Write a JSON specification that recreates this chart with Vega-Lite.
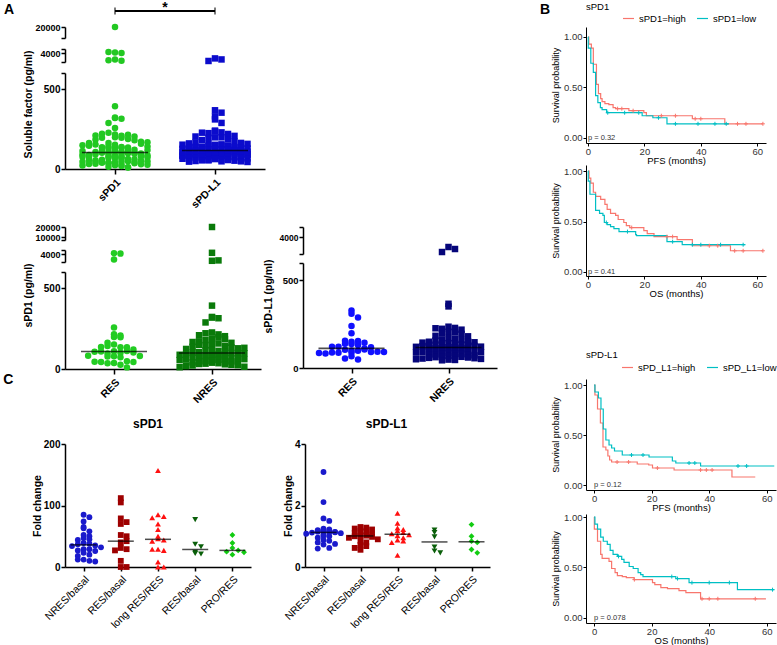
{
"$schema": "https://vega.github.io/schema/vega-lite/v6.json",
"padding": {"left": 3, "top": 0, "right": 0, "bottom": 0},
"config": {
  "view": {"stroke": null},
  "font": "Liberation Sans",
  "axis": {"domainColor": "black", "tickColor": "black", "labelColor": "black", "titleColor": "black", "grid": false},
  "title": {"color": "black"},
  "legend": {"labelColor": "black"}
},
"datasets": {
  "fac": [
    {"m":"sPD1","r":"RES","v":4100},{"m":"sPD1","r":"RES","v":4050},{"m":"sPD1","r":"RES","v":3300},{"m":"sPD1","r":"RES","v":256},{"m":"sPD1","r":"RES","v":215},{"m":"sPD1","r":"RES","v":198},{"m":"sPD1","r":"RES","v":196},{"m":"sPD1","r":"RES","v":208},{"m":"sPD1","r":"RES","v":152},{"m":"sPD1","r":"RES","v":135},{"m":"sPD1","r":"RES","v":142},{"m":"sPD1","r":"RES","v":134},{"m":"sPD1","r":"RES","v":136},{"m":"sPD1","r":"RES","v":162},{"m":"sPD1","r":"RES","v":121},{"m":"sPD1","r":"RES","v":110},{"m":"sPD1","r":"RES","v":100},{"m":"sPD1","r":"RES","v":96},{"m":"sPD1","r":"RES","v":112},{"m":"sPD1","r":"RES","v":108},{"m":"sPD1","r":"RES","v":102},{"m":"sPD1","r":"RES","v":106},{"m":"sPD1","r":"RES","v":79},{"m":"sPD1","r":"RES","v":73},{"m":"sPD1","r":"RES","v":80},{"m":"sPD1","r":"RES","v":78},{"m":"sPD1","r":"RES","v":82},{"m":"sPD1","r":"RES","v":48},{"m":"sPD1","r":"RES","v":37},{"m":"sPD1","r":"RES","v":44},{"m":"sPD1","r":"RES","v":27},{"m":"sPD1","r":"RES","v":36},{"m":"sPD1","r":"RES","v":43},{"m":"sPD1","r":"RES","v":45},{"m":"sPD1","r":"RES","v":10},
    {"m":"sPD1","r":"NRES","v":20000},{"m":"sPD1","r":"NRES","v":4150},{"m":"sPD1","r":"NRES","v":3150},{"m":"sPD1","r":"NRES","v":3200},{"m":"sPD1","r":"NRES","v":392},{"m":"sPD1","r":"NRES","v":318},{"m":"sPD1","r":"NRES","v":314},{"m":"sPD1","r":"NRES","v":322},{"m":"sPD1","r":"NRES","v":288},
    {"m":"sPD1","r":"NRES","v":226},{"m":"sPD1","r":"NRES","v":214},{"m":"sPD1","r":"NRES","v":221},{"m":"sPD1","r":"NRES","v":203},{"m":"sPD1","r":"NRES","v":209},{"m":"sPD1","r":"NRES","v":188},{"m":"sPD1","r":"NRES","v":196},{"m":"sPD1","r":"NRES","v":179},{"m":"sPD1","r":"NRES","v":184},{"m":"sPD1","r":"NRES","v":171},
    {"m":"sPD1","r":"NRES","v":162},{"m":"sPD1","r":"NRES","v":167},{"m":"sPD1","r":"NRES","v":153},{"m":"sPD1","r":"NRES","v":158},{"m":"sPD1","r":"NRES","v":146},{"m":"sPD1","r":"NRES","v":141},{"m":"sPD1","r":"NRES","v":149},{"m":"sPD1","r":"NRES","v":133},{"m":"sPD1","r":"NRES","v":137},{"m":"sPD1","r":"NRES","v":128},
    {"m":"sPD1","r":"NRES","v":124},{"m":"sPD1","r":"NRES","v":131},{"m":"sPD1","r":"NRES","v":118},{"m":"sPD1","r":"NRES","v":112},{"m":"sPD1","r":"NRES","v":116},{"m":"sPD1","r":"NRES","v":107},{"m":"sPD1","r":"NRES","v":104},{"m":"sPD1","r":"NRES","v":99},{"m":"sPD1","r":"NRES","v":101},{"m":"sPD1","r":"NRES","v":95},
    {"m":"sPD1","r":"NRES","v":92},{"m":"sPD1","r":"NRES","v":97},{"m":"sPD1","r":"NRES","v":88},{"m":"sPD1","r":"NRES","v":86},{"m":"sPD1","r":"NRES","v":90},{"m":"sPD1","r":"NRES","v":83},{"m":"sPD1","r":"NRES","v":79},{"m":"sPD1","r":"NRES","v":81},{"m":"sPD1","r":"NRES","v":76},{"m":"sPD1","r":"NRES","v":73},
    {"m":"sPD1","r":"NRES","v":77},{"m":"sPD1","r":"NRES","v":69},{"m":"sPD1","r":"NRES","v":66},{"m":"sPD1","r":"NRES","v":71},{"m":"sPD1","r":"NRES","v":63},{"m":"sPD1","r":"NRES","v":58},{"m":"sPD1","r":"NRES","v":61},{"m":"sPD1","r":"NRES","v":55},{"m":"sPD1","r":"NRES","v":52},{"m":"sPD1","r":"NRES","v":57},
    {"m":"sPD1","r":"NRES","v":49},{"m":"sPD1","r":"NRES","v":46},{"m":"sPD1","r":"NRES","v":43},{"m":"sPD1","r":"NRES","v":47},{"m":"sPD1","r":"NRES","v":39},{"m":"sPD1","r":"NRES","v":36},{"m":"sPD1","r":"NRES","v":41},{"m":"sPD1","r":"NRES","v":33},{"m":"sPD1","r":"NRES","v":29},{"m":"sPD1","r":"NRES","v":31},
    {"m":"sPD1","r":"NRES","v":26},{"m":"sPD1","r":"NRES","v":22},{"m":"sPD1","r":"NRES","v":24},{"m":"sPD1","r":"NRES","v":18},{"m":"sPD1","r":"NRES","v":14},{"m":"sPD1","r":"NRES","v":11},
    {"m":"sPD-L1","r":"RES","v":329},{"m":"sPD-L1","r":"RES","v":310},{"m":"sPD-L1","r":"RES","v":288},{"m":"sPD-L1","r":"RES","v":240},{"m":"sPD-L1","r":"RES","v":198},{"m":"sPD-L1","r":"RES","v":150},{"m":"sPD-L1","r":"RES","v":154},{"m":"sPD-L1","r":"RES","v":156},{"m":"sPD-L1","r":"RES","v":144},{"m":"sPD-L1","r":"RES","v":137},{"m":"sPD-L1","r":"RES","v":131},{"m":"sPD-L1","r":"RES","v":139},{"m":"sPD-L1","r":"RES","v":112},{"m":"sPD-L1","r":"RES","v":100},{"m":"sPD-L1","r":"RES","v":121},{"m":"sPD-L1","r":"RES","v":98},{"m":"sPD-L1","r":"RES","v":119},{"m":"sPD-L1","r":"RES","v":104},{"m":"sPD-L1","r":"RES","v":122},{"m":"sPD-L1","r":"RES","v":106},{"m":"sPD-L1","r":"RES","v":87},{"m":"sPD-L1","r":"RES","v":92},{"m":"sPD-L1","r":"RES","v":88},{"m":"sPD-L1","r":"RES","v":93},{"m":"sPD-L1","r":"RES","v":83},{"m":"sPD-L1","r":"RES","v":91},{"m":"sPD-L1","r":"RES","v":86},{"m":"sPD-L1","r":"RES","v":89},{"m":"sPD-L1","r":"RES","v":67},{"m":"sPD-L1","r":"RES","v":48},{"m":"sPD-L1","r":"RES","v":54},
    {"m":"sPD-L1","r":"NRES","v":3415},{"m":"sPD-L1","r":"NRES","v":3296},{"m":"sPD-L1","r":"NRES","v":3118},{"m":"sPD-L1","r":"NRES","v":367},{"m":"sPD-L1","r":"NRES","v":352},
    {"m":"sPD-L1","r":"NRES","v":236},{"m":"sPD-L1","r":"NRES","v":229},{"m":"sPD-L1","r":"NRES","v":224},{"m":"sPD-L1","r":"NRES","v":219},{"m":"sPD-L1","r":"NRES","v":227},{"m":"sPD-L1","r":"NRES","v":207},{"m":"sPD-L1","r":"NRES","v":203},{"m":"sPD-L1","r":"NRES","v":198},{"m":"sPD-L1","r":"NRES","v":195},{"m":"sPD-L1","r":"NRES","v":184},
    {"m":"sPD-L1","r":"NRES","v":181},{"m":"sPD-L1","r":"NRES","v":171},{"m":"sPD-L1","r":"NRES","v":166},{"m":"sPD-L1","r":"NRES","v":163},{"m":"sPD-L1","r":"NRES","v":160},{"m":"sPD-L1","r":"NRES","v":157},{"m":"sPD-L1","r":"NRES","v":152},{"m":"sPD-L1","r":"NRES","v":150},{"m":"sPD-L1","r":"NRES","v":147},{"m":"sPD-L1","r":"NRES","v":145},
    {"m":"sPD-L1","r":"NRES","v":142},{"m":"sPD-L1","r":"NRES","v":139},{"m":"sPD-L1","r":"NRES","v":137},{"m":"sPD-L1","r":"NRES","v":134},{"m":"sPD-L1","r":"NRES","v":133},{"m":"sPD-L1","r":"NRES","v":130},{"m":"sPD-L1","r":"NRES","v":128},{"m":"sPD-L1","r":"NRES","v":126},{"m":"sPD-L1","r":"NRES","v":124},{"m":"sPD-L1","r":"NRES","v":122},
    {"m":"sPD-L1","r":"NRES","v":121},{"m":"sPD-L1","r":"NRES","v":119},{"m":"sPD-L1","r":"NRES","v":118},{"m":"sPD-L1","r":"NRES","v":116},{"m":"sPD-L1","r":"NRES","v":114},{"m":"sPD-L1","r":"NRES","v":113},{"m":"sPD-L1","r":"NRES","v":110},{"m":"sPD-L1","r":"NRES","v":108},{"m":"sPD-L1","r":"NRES","v":107},{"m":"sPD-L1","r":"NRES","v":105},
    {"m":"sPD-L1","r":"NRES","v":103},{"m":"sPD-L1","r":"NRES","v":101},{"m":"sPD-L1","r":"NRES","v":99},{"m":"sPD-L1","r":"NRES","v":98},{"m":"sPD-L1","r":"NRES","v":96},{"m":"sPD-L1","r":"NRES","v":94},{"m":"sPD-L1","r":"NRES","v":92},{"m":"sPD-L1","r":"NRES","v":90},{"m":"sPD-L1","r":"NRES","v":88},{"m":"sPD-L1","r":"NRES","v":86},
    {"m":"sPD-L1","r":"NRES","v":84},{"m":"sPD-L1","r":"NRES","v":82},{"m":"sPD-L1","r":"NRES","v":80},{"m":"sPD-L1","r":"NRES","v":78},{"m":"sPD-L1","r":"NRES","v":76},{"m":"sPD-L1","r":"NRES","v":74},{"m":"sPD-L1","r":"NRES","v":72},{"m":"sPD-L1","r":"NRES","v":70},{"m":"sPD-L1","r":"NRES","v":68},{"m":"sPD-L1","r":"NRES","v":66},
    {"m":"sPD-L1","r":"NRES","v":64},{"m":"sPD-L1","r":"NRES","v":62},{"m":"sPD-L1","r":"NRES","v":60},{"m":"sPD-L1","r":"NRES","v":58},{"m":"sPD-L1","r":"NRES","v":56},{"m":"sPD-L1","r":"NRES","v":54},{"m":"sPD-L1","r":"NRES","v":52},{"m":"sPD-L1","r":"NRES","v":50},{"m":"sPD-L1","r":"NRES","v":48},{"m":"sPD-L1","r":"NRES","v":46},{"m":"sPD-L1","r":"NRES","v":44}
  ],
  "fold": [
    {"m":"sPD1","g":"NRES/basal","v":85},{"m":"sPD1","g":"NRES/basal","v":81},{"m":"sPD1","g":"NRES/basal","v":74},{"m":"sPD1","g":"NRES/basal","v":65},{"m":"sPD1","g":"NRES/basal","v":63},{"m":"sPD1","g":"NRES/basal","v":58},{"m":"sPD1","g":"NRES/basal","v":52},{"m":"sPD1","g":"NRES/basal","v":50},{"m":"sPD1","g":"NRES/basal","v":47},{"m":"sPD1","g":"NRES/basal","v":45},{"m":"sPD1","g":"NRES/basal","v":44},{"m":"sPD1","g":"NRES/basal","v":39},{"m":"sPD1","g":"NRES/basal","v":38},{"m":"sPD1","g":"NRES/basal","v":37},{"m":"sPD1","g":"NRES/basal","v":35},{"m":"sPD1","g":"NRES/basal","v":34},{"m":"sPD1","g":"NRES/basal","v":32},{"m":"sPD1","g":"NRES/basal","v":29},{"m":"sPD1","g":"NRES/basal","v":29},{"m":"sPD1","g":"NRES/basal","v":27},{"m":"sPD1","g":"NRES/basal","v":23},{"m":"sPD1","g":"NRES/basal","v":20},{"m":"sPD1","g":"NRES/basal","v":18},{"m":"sPD1","g":"NRES/basal","v":12},{"m":"sPD1","g":"NRES/basal","v":10},{"m":"sPD1","g":"NRES/basal","v":12},{"m":"sPD1","g":"NRES/basal","v":9},{"m":"sPD1","g":"NRES/basal","v":26},
    {"m":"sPD1","g":"RES/basal","v":112},{"m":"sPD1","g":"RES/basal","v":105},{"m":"sPD1","g":"RES/basal","v":79},{"m":"sPD1","g":"RES/basal","v":73},{"m":"sPD1","g":"RES/basal","v":70},{"m":"sPD1","g":"RES/basal","v":52},{"m":"sPD1","g":"RES/basal","v":50},{"m":"sPD1","g":"RES/basal","v":40},{"m":"sPD1","g":"RES/basal","v":42},{"m":"sPD1","g":"RES/basal","v":31},{"m":"sPD1","g":"RES/basal","v":29},{"m":"sPD1","g":"RES/basal","v":27},{"m":"sPD1","g":"RES/basal","v":10},{"m":"sPD1","g":"RES/basal","v":0},{"m":"sPD1","g":"RES/basal","v":0},
    {"m":"sPD1","g":"long RES/RES","v":157},{"m":"sPD1","g":"long RES/RES","v":85},{"m":"sPD1","g":"long RES/RES","v":82},{"m":"sPD1","g":"long RES/RES","v":80},{"m":"sPD1","g":"long RES/RES","v":70},{"m":"sPD1","g":"long RES/RES","v":61},{"m":"sPD1","g":"long RES/RES","v":50},{"m":"sPD1","g":"long RES/RES","v":46},{"m":"sPD1","g":"long RES/RES","v":44},{"m":"sPD1","g":"long RES/RES","v":42},{"m":"sPD1","g":"long RES/RES","v":29},{"m":"sPD1","g":"long RES/RES","v":27},{"m":"sPD1","g":"long RES/RES","v":29},{"m":"sPD1","g":"long RES/RES","v":8},{"m":"sPD1","g":"long RES/RES","v":0},{"m":"sPD1","g":"long RES/RES","v":0},
    {"m":"sPD1","g":"RES/basal (2)","v":77},{"m":"sPD1","g":"RES/basal (2)","v":37},{"m":"sPD1","g":"RES/basal (2)","v":33},{"m":"sPD1","g":"RES/basal (2)","v":24},{"m":"sPD1","g":"RES/basal (2)","v":22},{"m":"sPD1","g":"RES/basal (2)","v":21},
    {"m":"sPD1","g":"PRO/RES","v":52},{"m":"sPD1","g":"PRO/RES","v":39},{"m":"sPD1","g":"PRO/RES","v":31},{"m":"sPD1","g":"PRO/RES","v":27},{"m":"sPD1","g":"PRO/RES","v":25},{"m":"sPD1","g":"PRO/RES","v":24},{"m":"sPD1","g":"PRO/RES","v":20},
    {"m":"sPD-L1","g":"NRES/basal","v":3.09},{"m":"sPD-L1","g":"NRES/basal","v":2.11},{"m":"sPD-L1","g":"NRES/basal","v":1.58},{"m":"sPD-L1","g":"NRES/basal","v":1.50},{"m":"sPD-L1","g":"NRES/basal","v":1.25},{"m":"sPD-L1","g":"NRES/basal","v":1.22},{"m":"sPD-L1","g":"NRES/basal","v":1.20},{"m":"sPD-L1","g":"NRES/basal","v":1.18},{"m":"sPD-L1","g":"NRES/basal","v":1.16},{"m":"sPD-L1","g":"NRES/basal","v":1.15},{"m":"sPD-L1","g":"NRES/basal","v":1.13},{"m":"sPD-L1","g":"NRES/basal","v":1.12},{"m":"sPD-L1","g":"NRES/basal","v":1.10},{"m":"sPD-L1","g":"NRES/basal","v":1.08},{"m":"sPD-L1","g":"NRES/basal","v":1.05},{"m":"sPD-L1","g":"NRES/basal","v":1.02},{"m":"sPD-L1","g":"NRES/basal","v":1.00},{"m":"sPD-L1","g":"NRES/basal","v":1.13},{"m":"sPD-L1","g":"NRES/basal","v":0.95},{"m":"sPD-L1","g":"NRES/basal","v":1.17},{"m":"sPD-L1","g":"NRES/basal","v":0.88},{"m":"sPD-L1","g":"NRES/basal","v":0.85},{"m":"sPD-L1","g":"NRES/basal","v":0.80},{"m":"sPD-L1","g":"NRES/basal","v":0.75},{"m":"sPD-L1","g":"NRES/basal","v":0.73},{"m":"sPD-L1","g":"NRES/basal","v":0.62},{"m":"sPD-L1","g":"NRES/basal","v":0.60},{"m":"sPD-L1","g":"NRES/basal","v":1.14},
    {"m":"sPD-L1","g":"RES/basal","v":1.30},{"m":"sPD-L1","g":"RES/basal","v":1.28},{"m":"sPD-L1","g":"RES/basal","v":1.25},{"m":"sPD-L1","g":"RES/basal","v":1.22},{"m":"sPD-L1","g":"RES/basal","v":1.18},{"m":"sPD-L1","g":"RES/basal","v":1.15},{"m":"sPD-L1","g":"RES/basal","v":1.10},{"m":"sPD-L1","g":"RES/basal","v":1.05},{"m":"sPD-L1","g":"RES/basal","v":1.03},{"m":"sPD-L1","g":"RES/basal","v":1.02},{"m":"sPD-L1","g":"RES/basal","v":1.00},{"m":"sPD-L1","g":"RES/basal","v":0.98},{"m":"sPD-L1","g":"RES/basal","v":0.95},{"m":"sPD-L1","g":"RES/basal","v":0.90},{"m":"sPD-L1","g":"RES/basal","v":0.85},{"m":"sPD-L1","g":"RES/basal","v":0.80},{"m":"sPD-L1","g":"RES/basal","v":0.72},{"m":"sPD-L1","g":"RES/basal","v":0.68},{"m":"sPD-L1","g":"RES/basal","v":0.62},{"m":"sPD-L1","g":"RES/basal","v":0.56},
    {"m":"sPD-L1","g":"long RES/RES","v":1.75},{"m":"sPD-L1","g":"long RES/RES","v":1.42},{"m":"sPD-L1","g":"long RES/RES","v":1.27},{"m":"sPD-L1","g":"long RES/RES","v":1.22},{"m":"sPD-L1","g":"long RES/RES","v":1.18},{"m":"sPD-L1","g":"long RES/RES","v":1.12},{"m":"sPD-L1","g":"long RES/RES","v":1.08},{"m":"sPD-L1","g":"long RES/RES","v":1.05},{"m":"sPD-L1","g":"long RES/RES","v":1.02},{"m":"sPD-L1","g":"long RES/RES","v":0.95},{"m":"sPD-L1","g":"long RES/RES","v":0.88},{"m":"sPD-L1","g":"long RES/RES","v":0.85},{"m":"sPD-L1","g":"long RES/RES","v":0.80},{"m":"sPD-L1","g":"long RES/RES","v":0.38},
    {"m":"sPD-L1","g":"RES/basal (2)","v":1.20},{"m":"sPD-L1","g":"RES/basal (2)","v":1.12},{"m":"sPD-L1","g":"RES/basal (2)","v":0.98},{"m":"sPD-L1","g":"RES/basal (2)","v":0.65},{"m":"sPD-L1","g":"RES/basal (2)","v":0.52},{"m":"sPD-L1","g":"RES/basal (2)","v":0.46},
    {"m":"sPD-L1","g":"PRO/RES","v":1.38},{"m":"sPD-L1","g":"PRO/RES","v":1.00},{"m":"sPD-L1","g":"PRO/RES","v":0.84},{"m":"sPD-L1","g":"PRO/RES","v":0.80},{"m":"sPD-L1","g":"PRO/RES","v":0.57},{"m":"sPD-L1","g":"PRO/RES","v":0.46}
  ],
  "km": [
    {"p":"sPD1 PFS","s":"sPD1=high","t":0,"y":1},{"p":"sPD1 PFS","s":"sPD1=high","t":0.3,"y":0.93},{"p":"sPD1 PFS","s":"sPD1=high","t":1.2,"y":0.89},{"p":"sPD1 PFS","s":"sPD1=high","t":1.9,"y":0.73},{"p":"sPD1 PFS","s":"sPD1=high","t":3,"y":0.53},{"p":"sPD1 PFS","s":"sPD1=high","t":3.7,"y":0.44},{"p":"sPD1 PFS","s":"sPD1=high","t":4.5,"y":0.39},{"p":"sPD1 PFS","s":"sPD1=high","t":5,"y":0.36},{"p":"sPD1 PFS","s":"sPD1=high","t":6,"y":0.34},{"p":"sPD1 PFS","s":"sPD1=high","t":7.4,"y":0.33},{"p":"sPD1 PFS","s":"sPD1=high","t":8.9,"y":0.30},{"p":"sPD1 PFS","s":"sPD1=high","t":9.8,"y":0.29},{"p":"sPD1 PFS","s":"sPD1=high","t":14.5,"y":0.27},{"p":"sPD1 PFS","s":"sPD1=high","t":19.8,"y":0.25},{"p":"sPD1 PFS","s":"sPD1=high","t":20.7,"y":0.22},{"p":"sPD1 PFS","s":"sPD1=high","t":37,"y":0.19},{"p":"sPD1 PFS","s":"sPD1=high","t":48.5,"y":0.14},{"p":"sPD1 PFS","s":"sPD1=high","t":62,"y":0.14},
    {"p":"sPD1 PFS","s":"sPD1=low","t":0,"y":1},{"p":"sPD1 PFS","s":"sPD1=low","t":0.1,"y":0.89},{"p":"sPD1 PFS","s":"sPD1=low","t":1,"y":0.74},{"p":"sPD1 PFS","s":"sPD1=low","t":1.9,"y":0.65},{"p":"sPD1 PFS","s":"sPD1=low","t":2.7,"y":0.42},{"p":"sPD1 PFS","s":"sPD1=low","t":3.5,"y":0.35},{"p":"sPD1 PFS","s":"sPD1=low","t":4.4,"y":0.30},{"p":"sPD1 PFS","s":"sPD1=low","t":5,"y":0.28},{"p":"sPD1 PFS","s":"sPD1=low","t":6.6,"y":0.25},{"p":"sPD1 PFS","s":"sPD1=low","t":19.2,"y":0.22},{"p":"sPD1 PFS","s":"sPD1=low","t":23,"y":0.20},{"p":"sPD1 PFS","s":"sPD1=low","t":28,"y":0.14},{"p":"sPD1 PFS","s":"sPD1=low","t":50,"y":0.14},
    {"p":"sPD1 OS","s":"sPD1=high","t":0,"y":1},{"p":"sPD1 OS","s":"sPD1=high","t":0.4,"y":0.93},{"p":"sPD1 OS","s":"sPD1=high","t":1,"y":0.88},{"p":"sPD1 OS","s":"sPD1=high","t":1.9,"y":0.79},{"p":"sPD1 OS","s":"sPD1=high","t":2.7,"y":0.75},{"p":"sPD1 OS","s":"sPD1=high","t":4.5,"y":0.72},{"p":"sPD1 OS","s":"sPD1=high","t":6,"y":0.67},{"p":"sPD1 OS","s":"sPD1=high","t":6.8,"y":0.62},{"p":"sPD1 OS","s":"sPD1=high","t":8,"y":0.58},{"p":"sPD1 OS","s":"sPD1=high","t":9.8,"y":0.56},{"p":"sPD1 OS","s":"sPD1=high","t":10.7,"y":0.52},{"p":"sPD1 OS","s":"sPD1=high","t":12.7,"y":0.49},{"p":"sPD1 OS","s":"sPD1=high","t":13.6,"y":0.46},{"p":"sPD1 OS","s":"sPD1=high","t":14.8,"y":0.44},{"p":"sPD1 OS","s":"sPD1=high","t":19.8,"y":0.41},{"p":"sPD1 OS","s":"sPD1=high","t":21,"y":0.38},{"p":"sPD1 OS","s":"sPD1=high","t":23.4,"y":0.35},{"p":"sPD1 OS","s":"sPD1=high","t":31.6,"y":0.32},{"p":"sPD1 OS","s":"sPD1=high","t":37,"y":0.26},{"p":"sPD1 OS","s":"sPD1=high","t":50.5,"y":0.21},{"p":"sPD1 OS","s":"sPD1=high","t":62,"y":0.21},
    {"p":"sPD1 OS","s":"sPD1=low","t":0,"y":1},{"p":"sPD1 OS","s":"sPD1=low","t":0.1,"y":0.90},{"p":"sPD1 OS","s":"sPD1=low","t":0.7,"y":0.77},{"p":"sPD1 OS","s":"sPD1=low","t":2.7,"y":0.61},{"p":"sPD1 OS","s":"sPD1=low","t":4.1,"y":0.58},{"p":"sPD1 OS","s":"sPD1=low","t":5.3,"y":0.56},{"p":"sPD1 OS","s":"sPD1=low","t":5.8,"y":0.49},{"p":"sPD1 OS","s":"sPD1=low","t":6.8,"y":0.47},{"p":"sPD1 OS","s":"sPD1=low","t":8,"y":0.45},{"p":"sPD1 OS","s":"sPD1=low","t":9.2,"y":0.43},{"p":"sPD1 OS","s":"sPD1=low","t":11,"y":0.40},{"p":"sPD1 OS","s":"sPD1=low","t":16.9,"y":0.37},{"p":"sPD1 OS","s":"sPD1=low","t":17.2,"y":0.36},{"p":"sPD1 OS","s":"sPD1=low","t":28,"y":0.30},{"p":"sPD1 OS","s":"sPD1=low","t":33.4,"y":0.27},{"p":"sPD1 OS","s":"sPD1=low","t":55.8,"y":0.27},
    {"p":"sPD-L1 PFS","s":"sPD_L1=high","t":0,"y":1},{"p":"sPD-L1 PFS","s":"sPD_L1=high","t":0.3,"y":0.90},{"p":"sPD-L1 PFS","s":"sPD_L1=high","t":1.2,"y":0.76},{"p":"sPD-L1 PFS","s":"sPD_L1=high","t":2.2,"y":0.62},{"p":"sPD-L1 PFS","s":"sPD_L1=high","t":3.1,"y":0.38},{"p":"sPD-L1 PFS","s":"sPD_L1=high","t":4.1,"y":0.35},{"p":"sPD-L1 PFS","s":"sPD_L1=high","t":4.8,"y":0.29},{"p":"sPD-L1 PFS","s":"sPD_L1=high","t":5.4,"y":0.25},{"p":"sPD-L1 PFS","s":"sPD_L1=high","t":6.1,"y":0.23},{"p":"sPD-L1 PFS","s":"sPD_L1=high","t":15,"y":0.21},{"p":"sPD-L1 PFS","s":"sPD_L1=high","t":19,"y":0.20},{"p":"sPD-L1 PFS","s":"sPD_L1=high","t":20.3,"y":0.17},{"p":"sPD-L1 PFS","s":"sPD_L1=high","t":27.8,"y":0.15},{"p":"sPD-L1 PFS","s":"sPD_L1=high","t":47.9,"y":0.08},{"p":"sPD-L1 PFS","s":"sPD_L1=high","t":56,"y":0.08},
    {"p":"sPD-L1 PFS","s":"sPD_L1=low","t":0,"y":1},{"p":"sPD-L1 PFS","s":"sPD_L1=low","t":0.3,"y":0.93},{"p":"sPD-L1 PFS","s":"sPD_L1=low","t":1.5,"y":0.87},{"p":"sPD-L1 PFS","s":"sPD_L1=low","t":2.4,"y":0.76},{"p":"sPD-L1 PFS","s":"sPD_L1=low","t":3.2,"y":0.56},{"p":"sPD-L1 PFS","s":"sPD_L1=low","t":4.1,"y":0.45},{"p":"sPD-L1 PFS","s":"sPD_L1=low","t":5.2,"y":0.40},{"p":"sPD-L1 PFS","s":"sPD_L1=low","t":6.1,"y":0.37},{"p":"sPD-L1 PFS","s":"sPD_L1=low","t":7.1,"y":0.34},{"p":"sPD-L1 PFS","s":"sPD_L1=low","t":9.8,"y":0.30},{"p":"sPD-L1 PFS","s":"sPD_L1=low","t":19.1,"y":0.28},{"p":"sPD-L1 PFS","s":"sPD_L1=low","t":27.2,"y":0.24},{"p":"sPD-L1 PFS","s":"sPD_L1=low","t":28.4,"y":0.22},{"p":"sPD-L1 PFS","s":"sPD_L1=low","t":37,"y":0.19},{"p":"sPD-L1 PFS","s":"sPD_L1=low","t":62.6,"y":0.19},
    {"p":"sPD-L1 OS","s":"sPD_L1=high","t":0,"y":1},{"p":"sPD-L1 OS","s":"sPD_L1=high","t":0.1,"y":0.88},{"p":"sPD-L1 OS","s":"sPD_L1=high","t":1.2,"y":0.76},{"p":"sPD-L1 OS","s":"sPD_L1=high","t":2.3,"y":0.63},{"p":"sPD-L1 OS","s":"sPD_L1=high","t":2.8,"y":0.59},{"p":"sPD-L1 OS","s":"sPD_L1=high","t":5.2,"y":0.56},{"p":"sPD-L1 OS","s":"sPD_L1=high","t":6.1,"y":0.49},{"p":"sPD-L1 OS","s":"sPD_L1=high","t":7.3,"y":0.45},{"p":"sPD-L1 OS","s":"sPD_L1=high","t":8.1,"y":0.42},{"p":"sPD-L1 OS","s":"sPD_L1=high","t":9.8,"y":0.41},{"p":"sPD-L1 OS","s":"sPD_L1=high","t":11.2,"y":0.40},{"p":"sPD-L1 OS","s":"sPD_L1=high","t":13.9,"y":0.38},{"p":"sPD-L1 OS","s":"sPD_L1=high","t":20.3,"y":0.35},{"p":"sPD-L1 OS","s":"sPD_L1=high","t":21.1,"y":0.33},{"p":"sPD-L1 OS","s":"sPD_L1=high","t":23.2,"y":0.30},{"p":"sPD-L1 OS","s":"sPD_L1=high","t":25.5,"y":0.29},{"p":"sPD-L1 OS","s":"sPD_L1=high","t":29.5,"y":0.27},{"p":"sPD-L1 OS","s":"sPD_L1=high","t":31.9,"y":0.25},{"p":"sPD-L1 OS","s":"sPD_L1=high","t":37,"y":0.19},{"p":"sPD-L1 OS","s":"sPD_L1=high","t":59.7,"y":0.19},
    {"p":"sPD-L1 OS","s":"sPD_L1=low","t":0,"y":1},{"p":"sPD-L1 OS","s":"sPD_L1=low","t":0.3,"y":0.93},{"p":"sPD-L1 OS","s":"sPD_L1=low","t":1.2,"y":0.88},{"p":"sPD-L1 OS","s":"sPD_L1=low","t":2.3,"y":0.80},{"p":"sPD-L1 OS","s":"sPD_L1=low","t":3.2,"y":0.76},{"p":"sPD-L1 OS","s":"sPD_L1=low","t":4.6,"y":0.73},{"p":"sPD-L1 OS","s":"sPD_L1=low","t":5.6,"y":0.67},{"p":"sPD-L1 OS","s":"sPD_L1=low","t":6.6,"y":0.63},{"p":"sPD-L1 OS","s":"sPD_L1=low","t":8.1,"y":0.61},{"p":"sPD-L1 OS","s":"sPD_L1=low","t":9.6,"y":0.58},{"p":"sPD-L1 OS","s":"sPD_L1=low","t":10.4,"y":0.55},{"p":"sPD-L1 OS","s":"sPD_L1=low","t":12.2,"y":0.51},{"p":"sPD-L1 OS","s":"sPD_L1=low","t":13.6,"y":0.49},{"p":"sPD-L1 OS","s":"sPD_L1=low","t":15.3,"y":0.45},{"p":"sPD-L1 OS","s":"sPD_L1=low","t":16.2,"y":0.43},{"p":"sPD-L1 OS","s":"sPD_L1=low","t":17,"y":0.41},{"p":"sPD-L1 OS","s":"sPD_L1=low","t":28.4,"y":0.39},{"p":"sPD-L1 OS","s":"sPD_L1=low","t":33,"y":0.35},{"p":"sPD-L1 OS","s":"sPD_L1=low","t":49.8,"y":0.28},{"p":"sPD-L1 OS","s":"sPD_L1=low","t":62.6,"y":0.28}
  ],
  "cens": [
    {"p":"sPD1 PFS","s":"sPD1=high","t":10.5,"y":0.29},{"p":"sPD1 PFS","s":"sPD1=high","t":12,"y":0.29},{"p":"sPD1 PFS","s":"sPD1=high","t":16,"y":0.27},{"p":"sPD1 PFS","s":"sPD1=high","t":26,"y":0.22},{"p":"sPD1 PFS","s":"sPD1=high","t":31,"y":0.22},{"p":"sPD1 PFS","s":"sPD1=high","t":38,"y":0.19},{"p":"sPD1 PFS","s":"sPD1=high","t":40,"y":0.19},{"p":"sPD1 PFS","s":"sPD1=high","t":53,"y":0.14},{"p":"sPD1 PFS","s":"sPD1=high","t":56,"y":0.14},{"p":"sPD1 PFS","s":"sPD1=high","t":62,"y":0.14},
    {"p":"sPD1 PFS","s":"sPD1=low","t":7,"y":0.25},{"p":"sPD1 PFS","s":"sPD1=low","t":13,"y":0.25},{"p":"sPD1 PFS","s":"sPD1=low","t":18,"y":0.25},{"p":"sPD1 PFS","s":"sPD1=low","t":25,"y":0.20},{"p":"sPD1 PFS","s":"sPD1=low","t":31,"y":0.14},{"p":"sPD1 PFS","s":"sPD1=low","t":39,"y":0.14},{"p":"sPD1 PFS","s":"sPD1=low","t":45,"y":0.14},{"p":"sPD1 PFS","s":"sPD1=low","t":49,"y":0.14},
    {"p":"sPD1 OS","s":"sPD1=high","t":15.5,"y":0.44},{"p":"sPD1 OS","s":"sPD1=high","t":28,"y":0.35},{"p":"sPD1 OS","s":"sPD1=high","t":30,"y":0.35},{"p":"sPD1 OS","s":"sPD1=high","t":43,"y":0.26},{"p":"sPD1 OS","s":"sPD1=high","t":46,"y":0.26},{"p":"sPD1 OS","s":"sPD1=high","t":52,"y":0.21},{"p":"sPD1 OS","s":"sPD1=high","t":55,"y":0.21},{"p":"sPD1 OS","s":"sPD1=high","t":62,"y":0.21},
    {"p":"sPD1 OS","s":"sPD1=low","t":6.5,"y":0.49},{"p":"sPD1 OS","s":"sPD1=low","t":14,"y":0.40},{"p":"sPD1 OS","s":"sPD1=low","t":30,"y":0.30},{"p":"sPD1 OS","s":"sPD1=low","t":37,"y":0.27},{"p":"sPD1 OS","s":"sPD1=low","t":40,"y":0.27},{"p":"sPD1 OS","s":"sPD1=low","t":47,"y":0.27},{"p":"sPD1 OS","s":"sPD1=low","t":55,"y":0.27},
    {"p":"sPD-L1 PFS","s":"sPD_L1=high","t":8,"y":0.23},{"p":"sPD-L1 PFS","s":"sPD_L1=high","t":12,"y":0.23},{"p":"sPD-L1 PFS","s":"sPD_L1=high","t":22,"y":0.17},{"p":"sPD-L1 PFS","s":"sPD_L1=high","t":37,"y":0.15},{"p":"sPD-L1 PFS","s":"sPD_L1=high","t":39,"y":0.15},{"p":"sPD-L1 PFS","s":"sPD_L1=high","t":41,"y":0.15},
    {"p":"sPD-L1 PFS","s":"sPD_L1=low","t":13,"y":0.30},{"p":"sPD-L1 PFS","s":"sPD_L1=low","t":17,"y":0.30},{"p":"sPD-L1 PFS","s":"sPD_L1=low","t":33,"y":0.22},{"p":"sPD-L1 PFS","s":"sPD_L1=low","t":35,"y":0.22},{"p":"sPD-L1 PFS","s":"sPD_L1=low","t":50,"y":0.19},{"p":"sPD-L1 PFS","s":"sPD_L1=low","t":53,"y":0.19},
    {"p":"sPD-L1 OS","s":"sPD_L1=high","t":14,"y":0.38},{"p":"sPD-L1 OS","s":"sPD_L1=high","t":37.5,"y":0.19},{"p":"sPD-L1 OS","s":"sPD_L1=high","t":40,"y":0.19},{"p":"sPD-L1 OS","s":"sPD_L1=high","t":43,"y":0.19},{"p":"sPD-L1 OS","s":"sPD_L1=high","t":56,"y":0.19},
    {"p":"sPD-L1 OS","s":"sPD_L1=low","t":8.5,"y":0.61},{"p":"sPD-L1 OS","s":"sPD_L1=low","t":27,"y":0.41},{"p":"sPD-L1 OS","s":"sPD_L1=low","t":29,"y":0.39},{"p":"sPD-L1 OS","s":"sPD_L1=low","t":34,"y":0.35},{"p":"sPD-L1 OS","s":"sPD_L1=low","t":40,"y":0.35},{"p":"sPD-L1 OS","s":"sPD_L1=low","t":47,"y":0.35},{"p":"sPD-L1 OS","s":"sPD_L1=low","t":62,"y":0.28}
  ]
},
"resolve": {"scale": {"color": "independent", "shape": "independent"}, "legend": {"color": "independent", "shape": "independent"}},
"spacing": 43,
"hconcat": [
 {
  "spacing": 12,
  "resolve": {"scale": {"color": "independent", "shape": "independent"}, "legend": {"color": "independent", "shape": "independent"}},
  "vconcat": [
   {
    "bounds": "flush", "spacing": 11,
    "resolve": {"scale": {"color": "independent", "shape": "independent"}, "legend": {"color": "independent", "shape": "independent"}},
    "vconcat": [
     {
      "width": 200, "height": 11,
      "layer": [
       {
        "data": {"name": "fac"},
        "transform": [{"filter": "datum.v > 6000"}, {"calculate": "datum.m == 'sPD1' ? 0 : 1", "as": "xi"}],
        "mark": {"type": "point", "filled": true, "opacity": 1, "size": 42, "clip": false},
        "encoding": {
         "x": {"field": "xi", "type": "quantitative", "scale": {"domain": [-0.5, 1.5], "nice": false, "zero": false}, "axis": null},
         "y": {"field": "v", "type": "quantitative", "scale": {"domain": [7000, 20000], "nice": false, "zero": false}, "axis": {"values": [7000, 10000, 20000], "labelExpr": "datum.value == 7000 ? '' : datum.label", "format": "d", "title": null, "labelFontSize": 9, "labelFontWeight": "bold", "domainWidth": 1.5, "tickWidth": 1.5, "tickSize": 4, "labelPadding": 1, "labelOverlap": false, "labelFlush": false}},
         "shape": {"field": "m", "type": "nominal", "scale": {"domain": ["sPD1","sPD-L1"], "range": ["circle","square"]}, "legend": null},
         "color": {"field": "m", "type": "nominal", "scale": {"domain": ["sPD1","sPD-L1"], "range": ["#22c822","#0b0bcc"]}, "legend": null}
        }
       },
       {"data": {"values": [{}]}, "mark": {"type": "rule", "strokeWidth": 2.2, "color": "black"}, "encoding": {"x": {"datum": 0}, "x2": {"datum": 1}, "y": {"datum": 38900}}},
       {"data": {"values": [{}]}, "mark": {"type": "tick", "orient": "vertical", "size": 7, "thickness": 1.5, "color": "black"}, "encoding": {"x": {"datum": 0}, "y": {"datum": 38900}}},
       {"data": {"values": [{}]}, "mark": {"type": "tick", "orient": "vertical", "size": 7, "thickness": 1.5, "color": "black"}, "encoding": {"x": {"datum": 1}, "y": {"datum": 38900}}},
       {"data": {"values": [{}]}, "mark": {"type": "text", "text": "*", "fontSize": 14, "fontWeight": "bold", "baseline": "middle", "align": "center", "color": "black"}, "encoding": {"x": {"datum": 0.5}, "y": {"datum": 42460}}},
       {"data": {"values": [{}]}, "mark": {"type": "text", "text": "A", "fontSize": 14, "fontWeight": "bold", "baseline": "middle", "align": "left", "color": "black"}, "encoding": {"x": {"datum": -1.11}, "y": {"datum": 40090}}}
      ]
     },
     {
      "width": 200, "height": 13,
      "data": {"name": "fac"},
      "transform": [{"filter": "datum.v > 2000 && datum.v <= 6000"}, {"calculate": "floor(datum.v / 1000)", "as": "b"}, {"window": [{"op": "row_number", "as": "rk"}], "groupby": ["m", "b"]}, {"calculate": "(datum.m == 'sPD1' ? 0 : 1) + 0.065 * (datum.rk % 2 == 0 ? 1 : -1) * floor(datum.rk / 2)", "as": "xx"}],
      "mark": {"type": "point", "filled": true, "opacity": 1, "size": 42, "clip": false},
      "encoding": {
       "x": {"field": "xx", "type": "quantitative", "scale": {"domain": [-0.5, 1.5], "nice": false, "zero": false}, "axis": null},
       "y": {"field": "v", "type": "quantitative", "scale": {"domain": [3000, 4500], "nice": false, "zero": false}, "axis": {"values": [3000, 4000, 4500], "labelExpr": "datum.value == 4000 ? datum.label : ''", "format": "d", "title": null, "labelFontSize": 9, "labelFontWeight": "bold", "domainWidth": 1.5, "tickWidth": 1.5, "tickSize": 4, "labelPadding": 1, "labelOverlap": false, "labelFlush": false}},
       "shape": {"field": "m", "type": "nominal", "scale": {"domain": ["sPD1","sPD-L1"], "range": ["circle","square"]}, "legend": null},
       "color": {"field": "m", "type": "nominal", "scale": {"domain": ["sPD1","sPD-L1"], "range": ["#22c822","#0b0bcc"]}, "legend": null}
      }
     },
     {
      "width": 200, "height": 96,
      "data": {"name": "fac"},
      "layer": [
       {
        "transform": [{"filter": "datum.v <= 600"}, {"calculate": "floor(datum.v / 40)", "as": "b"}, {"window": [{"op": "row_number", "as": "rk"}], "groupby": ["m", "b"]}, {"calculate": "((datum.rk - 1) % 11) + 1", "as": "k"}, {"calculate": "(datum.m == 'sPD1' ? 0 : 1) + 0.065 * (datum.k % 2 == 0 ? 1 : -1) * floor(datum.k / 2)", "as": "xx"}],
        "mark": {"type": "point", "filled": true, "opacity": 1, "size": 42, "clip": false},
        "encoding": {
         "x": {"field": "xx", "type": "quantitative", "scale": {"domain": [-0.5, 1.5], "nice": false, "zero": false}, "axis": {"values": [0, 1], "labelExpr": "datum.value == 0 ? 'sPD1' : 'sPD-L1'", "title": null, "labelAngle": -45, "labelFontSize": 10.5, "labelFontWeight": "bold", "domainWidth": 1.5, "tickWidth": 1.5, "tickSize": 5, "labelPadding": 3, "labelFlush": false, "labelOverlap": false}},
         "y": {"field": "v", "type": "quantitative", "scale": {"domain": [0, 600], "nice": false}, "axis": {"values": [0, 500, 600], "labelExpr": "datum.value == 600 ? '' : datum.label", "format": "d", "title": "Soluble factor (pg/ml)", "titleFontSize": 10.5, "titleFontWeight": "bold", "titleY": 31, "titlePadding": 10, "labelFontSize": 10, "labelFontWeight": "bold", "domainWidth": 1.5, "tickWidth": 1.5, "tickSize": 4, "labelPadding": 1, "labelOverlap": false, "labelFlush": false}},
         "shape": {"field": "m", "type": "nominal", "scale": {"domain": ["sPD1","sPD-L1"], "range": ["circle","square"]}, "legend": null},
         "color": {"field": "m", "type": "nominal", "scale": {"domain": ["sPD1","sPD-L1"], "range": ["#22c822","#0b0bcc"]}, "legend": null}
        }
       },
       {
        "transform": [{"aggregate": [{"op": "median", "field": "v", "as": "med"}], "groupby": ["m"]}, {"calculate": "datum.m == 'sPD1' ? 0 : 1", "as": "xi"}],
        "mark": {"type": "tick", "orient": "horizontal", "color": "black", "size": 66, "thickness": 1.6},
        "encoding": {"x": {"field": "xi", "type": "quantitative"}, "y": {"field": "med", "type": "quantitative"}}
       }
      ]
     }
    ]
   },
   {
    "spacing": 2,
    "resolve": {"scale": {"color": "independent", "shape": "independent"}, "legend": {"color": "independent", "shape": "independent"}},
    "hconcat": [
     {
      "bounds": "flush", "spacing": 10,
      "resolve": {"scale": {"color": "independent", "shape": "independent"}, "legend": {"color": "independent", "shape": "independent"}},
      "vconcat": [
       {
        "width": 196, "height": 13,
        "data": {"name": "fac"},
        "transform": [{"filter": "datum.m == 'sPD1' && datum.v > 6000"}, {"calculate": "datum.r == 'RES' ? 0 : 1", "as": "xi"}],
        "mark": {"type": "point", "filled": true, "opacity": 1, "size": 42, "clip": false},
        "encoding": {
         "x": {"field": "xi", "type": "quantitative", "scale": {"domain": [-0.5, 1.5], "nice": false, "zero": false}, "axis": null},
         "y": {"field": "v", "type": "quantitative", "scale": {"domain": [7000, 20000], "nice": false, "zero": false}, "axis": {"values": [7000, 10000, 20000], "labelExpr": "datum.value == 7000 ? '' : datum.label", "format": "d", "title": null, "labelFontSize": 9, "labelFontWeight": "bold", "domainWidth": 1.5, "tickWidth": 1.5, "tickSize": 4, "labelPadding": 1, "labelOverlap": false, "labelFlush": false}},
         "shape": {"field": "r", "type": "nominal", "scale": {"domain": ["RES","NRES"], "range": ["circle","square"]}, "legend": null},
         "color": {"field": "r", "type": "nominal", "scale": {"domain": ["RES","NRES"], "range": ["#22cc22","#0a7a0a"]}, "legend": null}
        }
       },
       {
        "width": 196, "height": 12,
        "data": {"name": "fac"},
        "transform": [{"filter": "datum.m == 'sPD1' && datum.v > 2000 && datum.v <= 6000"}, {"calculate": "floor(datum.v / 1000)", "as": "b"}, {"window": [{"op": "row_number", "as": "rk"}], "groupby": ["r", "b"]}, {"calculate": "(datum.r == 'RES' ? 0 : 1) + 0.066 * (datum.rk % 2 == 0 ? 1 : -1) * floor(datum.rk / 2)", "as": "xx"}],
        "mark": {"type": "point", "filled": true, "opacity": 1, "size": 42, "clip": false},
        "encoding": {
         "x": {"field": "xx", "type": "quantitative", "scale": {"domain": [-0.5, 1.5], "nice": false, "zero": false}, "axis": null},
         "y": {"field": "v", "type": "quantitative", "scale": {"domain": [3000, 4500], "nice": false, "zero": false}, "axis": {"values": [3000, 4000, 4500], "labelExpr": "datum.value == 4000 ? datum.label : ''", "format": "d", "title": null, "labelFontSize": 9, "labelFontWeight": "bold", "domainWidth": 1.5, "tickWidth": 1.5, "tickSize": 4, "labelPadding": 1, "labelOverlap": false, "labelFlush": false}},
         "shape": {"field": "r", "type": "nominal", "scale": {"domain": ["RES","NRES"], "range": ["circle","square"]}, "legend": null},
         "color": {"field": "r", "type": "nominal", "scale": {"domain": ["RES","NRES"], "range": ["#22cc22","#0a7a0a"]}, "legend": null}
        }
       },
       {
        "width": 196, "height": 97,
        "layer": [
         {
          "data": {"name": "fac"},
          "transform": [{"filter": "datum.m == 'sPD1' && datum.v <= 600"}, {"calculate": "floor(datum.v / 40)", "as": "b"}, {"window": [{"op": "row_number", "as": "rk"}], "groupby": ["r", "b"]}, {"calculate": "((datum.rk - 1) % 11) + 1", "as": "k"}, {"calculate": "(datum.r == 'RES' ? 0 : 1) + 0.066 * (datum.k % 2 == 0 ? 1 : -1) * floor(datum.k / 2)", "as": "xx"}],
          "mark": {"type": "point", "filled": true, "opacity": 1, "size": 42, "clip": false},
          "encoding": {
           "x": {"field": "xx", "type": "quantitative", "scale": {"domain": [-0.5, 1.5], "nice": false, "zero": false}, "axis": {"values": [0, 1], "labelExpr": "datum.value == 0 ? 'RES' : 'NRES'", "title": null, "labelAngle": -45, "labelFontSize": 10.5, "labelFontWeight": "bold", "domainWidth": 1.5, "tickWidth": 1.5, "tickSize": 5, "labelPadding": 3, "labelFlush": false, "labelOverlap": false}},
           "y": {"field": "v", "type": "quantitative", "scale": {"domain": [0, 600], "nice": false}, "axis": {"values": [0, 500, 600], "labelExpr": "datum.value == 600 ? '' : datum.label", "format": "d", "title": "sPD1 (pg/ml)", "titleFontSize": 10.5, "titleFontWeight": "bold", "titleY": 23, "titlePadding": 10, "labelFontSize": 10, "labelFontWeight": "bold", "domainWidth": 1.5, "tickWidth": 1.5, "tickSize": 4, "labelPadding": 1, "labelOverlap": false, "labelFlush": false}},
           "shape": {"field": "r", "type": "nominal", "scale": {"domain": ["RES","NRES"], "range": ["circle","square"]}, "legend": null},
           "color": {"field": "r", "type": "nominal", "scale": {"domain": ["RES","NRES"], "range": ["#22cc22","#0a7a0a"]}, "legend": null}
          }
         },
         {
          "data": {"name": "fac"},
          "transform": [{"filter": "datum.m == 'sPD1'"}, {"aggregate": [{"op": "median", "field": "v", "as": "med"}], "groupby": ["r"]}, {"calculate": "datum.r == 'RES' ? 0 : 1", "as": "xi"}],
          "mark": {"type": "tick", "orient": "horizontal", "color": "black", "size": 66, "thickness": 1.6},
          "encoding": {"x": {"field": "xi", "type": "quantitative"}, "y": {"field": "med", "type": "quantitative"}}
         },
         {"data": {"values": [{}]}, "mark": {"type": "text", "text": "C", "fontSize": 14, "fontWeight": "bold", "baseline": "middle", "align": "left", "color": "black"}, "encoding": {"x": {"datum": -1.13}, "y": {"datum": -68}}}
        ]
       }
      ]
     },
     {
      "bounds": "flush", "spacing": 9,
      "resolve": {"scale": {"color": "independent", "shape": "independent"}, "legend": {"color": "independent", "shape": "independent"}},
      "vconcat": [
       {
        "width": 194, "height": 27,
        "data": {"name": "fac"},
        "transform": [{"filter": "datum.m == 'sPD-L1' && datum.v > 2000"}, {"calculate": "floor(datum.v / 1000)", "as": "b"}, {"window": [{"op": "row_number", "as": "rk"}], "groupby": ["r", "b"]}, {"calculate": "(datum.r == 'RES' ? 0 : 1) + 0.067 * (datum.rk % 2 == 0 ? 1 : -1) * floor(datum.rk / 2)", "as": "xx"}],
        "mark": {"type": "point", "filled": true, "opacity": 1, "size": 42, "clip": false},
        "encoding": {
         "x": {"field": "xx", "type": "quantitative", "scale": {"domain": [-0.5, 1.5], "nice": false, "zero": false}, "axis": null},
         "y": {"field": "v", "type": "quantitative", "scale": {"domain": [3000, 4600], "nice": false, "zero": false}, "axis": {"values": [3000, 4000, 4600], "labelExpr": "datum.value == 4000 ? datum.label : ''", "format": "d", "title": null, "labelFontSize": 8.5, "labelFontWeight": "bold", "domainWidth": 1.5, "tickWidth": 1.5, "tickSize": 4, "labelPadding": 1, "labelOverlap": false, "labelFlush": false}},
         "shape": {"field": "r", "type": "nominal", "scale": {"domain": ["RES","NRES"], "range": ["circle","square"]}, "legend": null},
         "color": {"field": "r", "type": "nominal", "scale": {"domain": ["RES","NRES"], "range": ["#1010ff","#05057a"]}, "legend": null}
        }
       },
       {
        "width": 194, "height": 105,
        "data": {"name": "fac"},
        "transform": [{"filter": "datum.m == 'sPD-L1'"}],
        "layer": [
         {
          "transform": [{"filter": "datum.v <= 600"}, {"calculate": "floor(datum.v / 36)", "as": "b"}, {"window": [{"op": "row_number", "as": "rk"}], "groupby": ["r", "b"]}, {"calculate": "((datum.rk - 1) % 11) + 1", "as": "k"}, {"calculate": "(datum.r == 'RES' ? 0 : 1) + 0.067 * (datum.k % 2 == 0 ? 1 : -1) * floor(datum.k / 2)", "as": "xx"}],
          "mark": {"type": "point", "filled": true, "opacity": 1, "size": 42, "clip": false},
          "encoding": {
           "x": {"field": "xx", "type": "quantitative", "scale": {"domain": [-0.5, 1.5], "nice": false, "zero": false}, "axis": {"values": [0, 1], "labelExpr": "datum.value == 0 ? 'RES' : 'NRES'", "title": null, "labelAngle": -45, "labelFontSize": 10.5, "labelFontWeight": "bold", "domainWidth": 1.5, "tickWidth": 1.5, "tickSize": 5, "labelPadding": 3, "labelFlush": false, "labelOverlap": false}},
           "y": {"field": "v", "type": "quantitative", "scale": {"domain": [0, 600], "nice": false}, "axis": {"values": [0, 500, 600], "labelExpr": "datum.value == 600 ? '' : datum.label", "format": "d", "title": "sPD-L1 (pg/ml)", "titleFontSize": 10.5, "titleFontWeight": "bold", "titleY": 33, "titlePadding": 9, "labelFontSize": 9.5, "labelFontWeight": "bold", "domainWidth": 1.5, "tickWidth": 1.5, "tickSize": 4, "labelPadding": 1, "labelOverlap": false, "labelFlush": false}},
           "shape": {"field": "r", "type": "nominal", "scale": {"domain": ["RES","NRES"], "range": ["circle","square"]}, "legend": null},
           "color": {"field": "r", "type": "nominal", "scale": {"domain": ["RES","NRES"], "range": ["#1010ff","#05057a"]}, "legend": null}
          }
         },
         {
          "transform": [{"aggregate": [{"op": "median", "field": "v", "as": "med"}], "groupby": ["r"]}, {"calculate": "datum.r == 'RES' ? 0 : 1", "as": "xi"}],
          "mark": {"type": "tick", "orient": "horizontal", "color": "black", "size": 66, "thickness": 1.6},
          "encoding": {"x": {"field": "xi", "type": "quantitative"}, "y": {"field": "med", "type": "quantitative"}}
         }
        ]
       }
      ]
     }
    ]
   },
   {
    "spacing": 32,
    "resolve": {"scale": {"color": "independent", "shape": "independent"}, "legend": {"color": "independent", "shape": "independent"}},
    "hconcat": [
     {
      "width": 186, "height": 123,
      "title": {"text": "sPD1", "fontSize": 12, "fontWeight": "bold", "offset": 8, "dx": -10},
      "data": {"name": "fold"},
      "transform": [{"filter": "datum.m == 'sPD1'"}, {"calculate": "indexof(['NRES/basal','RES/basal','long RES/RES','RES/basal (2)','PRO/RES'], datum.g)", "as": "gi"}],
      "layer": [
       {
        "transform": [{"calculate": "floor(datum.v / 8)", "as": "b"}, {"window": [{"op": "row_number", "as": "rk"}], "groupby": ["g", "b"]}, {"calculate": "((datum.rk - 1) % 7) + 1", "as": "k"}, {"calculate": "datum.gi + 0.156 * (datum.k % 2 == 0 ? 1 : -1) * floor(datum.k / 2)", "as": "xx"}],
        "mark": {"type": "point", "filled": true, "opacity": 1, "size": 34, "clip": false},
        "encoding": {
         "x": {"field": "xx", "type": "quantitative", "scale": {"domain": [-0.5, 4.5], "nice": false, "zero": false}, "axis": {"values": [0, 1, 2, 3, 4], "labelExpr": "['NRES/basal','RES/basal','long RES/RES','RES/basal','PRO/RES'][datum.value]", "title": null, "labelAngle": -45, "labelFontSize": 10.5, "domainWidth": 1.5, "tickWidth": 1.5, "tickSize": 4, "labelPadding": 3, "labelFlush": false, "labelOverlap": false}},
         "y": {"field": "v", "type": "quantitative", "scale": {"domain": [0, 200], "nice": false}, "axis": {"values": [0, 50, 100, 150, 200], "title": "Fold change", "titleFontSize": 10.5, "titleFontWeight": "bold", "titlePadding": 1, "labelFontSize": 10, "labelFontWeight": "bold", "domainWidth": 1.5, "tickWidth": 1.5, "tickSize": 4, "labelPadding": 1, "labelFlush": false}},
         "shape": {"field": "g", "type": "nominal", "scale": {"domain": ["NRES/basal","RES/basal","long RES/RES","RES/basal (2)","PRO/RES"], "range": ["circle","square","triangle-up","triangle-down","diamond"]}, "legend": null},
         "color": {"field": "g", "type": "nominal", "scale": {"domain": ["NRES/basal","RES/basal","long RES/RES","RES/basal (2)","PRO/RES"], "range": ["#1a1acc","#9e0000","#ff1010","#0a5f0a","#12cc12"]}, "legend": null}
        }
       },
       {
        "transform": [{"aggregate": [{"op": "median", "field": "v", "as": "med"}], "groupby": ["gi"]}],
        "mark": {"type": "tick", "orient": "horizontal", "color": "black", "size": 26, "thickness": 1.5},
        "encoding": {"x": {"field": "gi", "type": "quantitative"}, "y": {"field": "med", "type": "quantitative"}}
       }
      ]
     },
     {
      "width": 185, "height": 123,
      "title": {"text": "sPD-L1", "fontSize": 12, "fontWeight": "bold", "offset": 8, "dx": -11},
      "data": {"name": "fold"},
      "transform": [{"filter": "datum.m == 'sPD-L1'"}, {"calculate": "indexof(['NRES/basal','RES/basal','long RES/RES','RES/basal (2)','PRO/RES'], datum.g)", "as": "gi"}],
      "layer": [
       {
        "transform": [{"calculate": "floor(datum.v / 0.15)", "as": "b"}, {"window": [{"op": "row_number", "as": "rk"}], "groupby": ["g", "b"]}, {"calculate": "((datum.rk - 1) % 7) + 1", "as": "k"}, {"calculate": "datum.gi + 0.156 * (datum.k % 2 == 0 ? 1 : -1) * floor(datum.k / 2)", "as": "xx"}],
        "mark": {"type": "point", "filled": true, "opacity": 1, "size": 34, "clip": false},
        "encoding": {
         "x": {"field": "xx", "type": "quantitative", "scale": {"domain": [-0.5, 4.5], "nice": false, "zero": false}, "axis": {"values": [0, 1, 2, 3, 4], "labelExpr": "['NRES/basal','RES/basal','long RES/RES','RES/basal','PRO/RES'][datum.value]", "title": null, "labelAngle": -45, "labelFontSize": 10.5, "domainWidth": 1.5, "tickWidth": 1.5, "tickSize": 4, "labelPadding": 3, "labelFlush": false, "labelOverlap": false}},
         "y": {"field": "v", "type": "quantitative", "scale": {"domain": [0, 4], "nice": false}, "axis": {"values": [0, 1, 2, 3, 4], "title": "Fold change", "titleFontSize": 10.5, "titleFontWeight": "bold", "titlePadding": 1, "labelFontSize": 10, "labelFontWeight": "bold", "domainWidth": 1.5, "tickWidth": 1.5, "tickSize": 4, "labelPadding": 1, "labelFlush": false}},
         "shape": {"field": "g", "type": "nominal", "scale": {"domain": ["NRES/basal","RES/basal","long RES/RES","RES/basal (2)","PRO/RES"], "range": ["circle","square","triangle-up","triangle-down","diamond"]}, "legend": null},
         "color": {"field": "g", "type": "nominal", "scale": {"domain": ["NRES/basal","RES/basal","long RES/RES","RES/basal (2)","PRO/RES"], "range": ["#1a1acc","#9e0000","#ff1010","#0a5f0a","#12cc12"]}, "legend": null}
        }
       },
       {
        "transform": [{"aggregate": [{"op": "median", "field": "v", "as": "med"}], "groupby": ["gi"]}],
        "mark": {"type": "tick", "orient": "horizontal", "color": "black", "size": 26, "thickness": 1.5},
        "encoding": {"x": {"field": "gi", "type": "quantitative"}, "y": {"field": "med", "type": "quantitative"}}
       }
      ]
     }
    ]
   }
  ]
 },
 {
  "spacing": 51,
  "resolve": {"scale": {"color": "independent"}, "legend": {"color": "independent"}},
  "vconcat": [
   {
    "spacing": -1,
    "resolve": {"scale": {"color": "independent"}, "legend": {"color": "independent"}},
    "vconcat": [
     {
      "width": 180, "height": 116,
      "title": {"text": "sPD1", "anchor": "start", "frame": "group", "fontSize": 9.5, "fontWeight": "normal", "offset": -8},
      "layer": [
       {"data": {"name": "km"}, "transform": [{"filter": "datum.p == 'sPD1 PFS'"}],
        "mark": {"type": "line", "interpolate": "step-after", "strokeWidth": 1.2},
        "encoding": {
         "x": {"field": "t", "type": "quantitative", "scale": {"domain": [-0.7, 63.1], "nice": false, "zero": false}, "axis": {"values": [0, 20, 40, 60], "title": "PFS (months)", "titleFontSize": 9.5, "titleFontWeight": "normal", "labelFontSize": 9.5, "labelColor": "#333333", "tickSize": 3, "labelPadding": 0, "titlePadding": 0, "labelFlush": false}},
         "y": {"field": "y", "type": "quantitative", "scale": {"domain": [-0.05, 1.099], "nice": false, "zero": false}, "axis": {"values": [0, 0.25, 0.5, 0.75, 1], "format": ".2f", "title": "Survival probability", "titleFontSize": 9, "titleFontWeight": "normal", "labelFontSize": 9.5, "labelColor": "#333333", "tickSize": 3, "labelPadding": 1, "titlePadding": 3, "labelFlush": false}},
         "color": {"field": "s", "type": "nominal", "scale": {"domain": ["sPD1=high","sPD1=low"], "range": ["#F8766D","#00BFC4"]}, "legend": {"orient": "none", "legendX": 36, "legendY": -15, "direction": "horizontal", "title": null, "labelFontSize": 9.5, "symbolType": "stroke", "symbolStrokeWidth": 1.2, "symbolSize": 120, "columnPadding": 8}},
         "order": {"field": "t", "type": "quantitative"}
        }},
       {"data": {"name": "cens"}, "transform": [{"filter": "datum.p == 'sPD1 PFS'"}],
        "mark": {"type": "point", "shape": "M0,-1V1M-1,0H1", "filled": false, "size": 16, "strokeWidth": 1, "opacity": 1},
        "encoding": {"x": {"field": "t", "type": "quantitative"}, "y": {"field": "y", "type": "quantitative"}, "color": {"field": "s", "type": "nominal"}}},
       {"data": {"values": [{}]}, "mark": {"type": "text", "align": "left", "baseline": "middle", "fontSize": 7.5, "color": "#333333"},
        "encoding": {"x": {"datum": 0}, "y": {"datum": 0}, "text": {"value": "p = 0.32"}}},
       {"data": {"values": [{}]}, "mark": {"type": "text", "text": "B", "fontSize": 14, "fontWeight": "bold", "baseline": "middle", "align": "left", "color": "black"},
        "encoding": {"x": {"datum": -17}, "y": {"datum": 1.267}}}
      ]
     },
     {
      "width": 180, "height": 111,
      "layer": [
       {"data": {"name": "km"}, "transform": [{"filter": "datum.p == 'sPD1 OS'"}],
        "mark": {"type": "line", "interpolate": "step-after", "strokeWidth": 1.2},
        "encoding": {
         "x": {"field": "t", "type": "quantitative", "scale": {"domain": [-0.7, 63.1], "nice": false, "zero": false}, "axis": {"values": [0, 20, 40, 60], "title": "OS (months)", "titleFontSize": 9.5, "titleFontWeight": "normal", "labelFontSize": 9.5, "labelColor": "#333333", "tickSize": 3, "labelPadding": 0, "titlePadding": 0, "labelFlush": false}},
         "y": {"field": "y", "type": "quantitative", "scale": {"domain": [-0.04, 1.06], "nice": false, "zero": false}, "axis": {"values": [0, 0.25, 0.5, 0.75, 1], "format": ".2f", "title": "Survival probability", "titleFontSize": 9, "titleFontWeight": "normal", "labelFontSize": 9.5, "labelColor": "#333333", "tickSize": 3, "labelPadding": 1, "titlePadding": 3, "labelFlush": false}},
         "color": {"field": "s", "type": "nominal", "scale": {"domain": ["sPD1=high","sPD1=low"], "range": ["#F8766D","#00BFC4"]}, "legend": null},
         "order": {"field": "t", "type": "quantitative"}
        }},
       {"data": {"name": "cens"}, "transform": [{"filter": "datum.p == 'sPD1 OS'"}],
        "mark": {"type": "point", "shape": "M0,-1V1M-1,0H1", "filled": false, "size": 16, "strokeWidth": 1, "opacity": 1},
        "encoding": {"x": {"field": "t", "type": "quantitative"}, "y": {"field": "y", "type": "quantitative"}, "color": {"field": "s", "type": "nominal"}}},
       {"data": {"values": [{}]}, "mark": {"type": "text", "align": "left", "baseline": "middle", "fontSize": 7.5, "color": "#333333"},
        "encoding": {"x": {"datum": 0}, "y": {"datum": 0}, "text": {"value": "p = 0.41"}}}
      ]
     }
    ]
   },
   {
    "spacing": 0,
    "resolve": {"scale": {"color": "independent"}, "legend": {"color": "independent"}},
    "vconcat": [
     {
      "width": 190, "height": 111,
      "title": {"text": "sPD-L1", "anchor": "start", "frame": "group", "fontSize": 9.5, "fontWeight": "normal", "offset": 2},
      "layer": [
       {"data": {"name": "km"}, "transform": [{"filter": "datum.p == 'sPD-L1 PFS'"}],
        "mark": {"type": "line", "interpolate": "step-after", "strokeWidth": 1.2},
        "encoding": {
         "x": {"field": "t", "type": "quantitative", "scale": {"domain": [-2.8, 63.2], "nice": false, "zero": false}, "axis": {"values": [0, 20, 40, 60], "title": "PFS (months)", "titleFontSize": 9.5, "titleFontWeight": "normal", "labelFontSize": 9.5, "labelColor": "#333333", "tickSize": 3, "labelPadding": 0, "titlePadding": 0, "labelFlush": false}},
         "y": {"field": "y", "type": "quantitative", "scale": {"domain": [-0.05, 1.06], "nice": false, "zero": false}, "axis": {"values": [0, 0.25, 0.5, 0.75, 1], "format": ".2f", "title": "Survival probability", "titleFontSize": 9, "titleFontWeight": "normal", "labelFontSize": 9.5, "labelColor": "#333333", "tickSize": 3, "labelPadding": 1, "titlePadding": 3, "labelFlush": false}},
         "color": {"field": "s", "type": "nominal", "scale": {"domain": ["sPD_L1=high","sPD_L1=low"], "range": ["#F8766D","#00BFC4"]}, "legend": {"orient": "none", "legendX": 35, "legendY": -18, "direction": "horizontal", "title": null, "labelFontSize": 9.5, "symbolType": "stroke", "symbolStrokeWidth": 1.2, "symbolSize": 120, "columnPadding": 8}},
         "order": {"field": "t", "type": "quantitative"}
        }},
       {"data": {"name": "cens"}, "transform": [{"filter": "datum.p == 'sPD-L1 PFS'"}],
        "mark": {"type": "point", "shape": "M0,-1V1M-1,0H1", "filled": false, "size": 16, "strokeWidth": 1, "opacity": 1},
        "encoding": {"x": {"field": "t", "type": "quantitative"}, "y": {"field": "y", "type": "quantitative"}, "color": {"field": "s", "type": "nominal"}}},
       {"data": {"values": [{}]}, "mark": {"type": "text", "align": "left", "baseline": "middle", "fontSize": 7.5, "color": "#333333"},
        "encoding": {"x": {"datum": 0}, "y": {"datum": 0}, "text": {"value": "p = 0.12"}}}
      ]
     },
     {
      "width": 190, "height": 109,
      "layer": [
       {"data": {"name": "km"}, "transform": [{"filter": "datum.p == 'sPD-L1 OS'"}],
        "mark": {"type": "line", "interpolate": "step-after", "strokeWidth": 1.2},
        "encoding": {
         "x": {"field": "t", "type": "quantitative", "scale": {"domain": [-2.8, 63.2], "nice": false, "zero": false}, "axis": {"values": [0, 20, 40, 60], "title": "OS (months)", "titleFontSize": 9.5, "titleFontWeight": "normal", "labelFontSize": 9.5, "labelColor": "#333333", "tickSize": 3, "labelPadding": 0, "titlePadding": 0, "labelFlush": false}},
         "y": {"field": "y", "type": "quantitative", "scale": {"domain": [-0.05, 1.03], "nice": false, "zero": false}, "axis": {"values": [0, 0.25, 0.5, 0.75, 1], "format": ".2f", "title": "Survival probability", "titleFontSize": 9, "titleFontWeight": "normal", "labelFontSize": 9.5, "labelColor": "#333333", "tickSize": 3, "labelPadding": 1, "titlePadding": 3, "labelFlush": false}},
         "color": {"field": "s", "type": "nominal", "scale": {"domain": ["sPD_L1=high","sPD_L1=low"], "range": ["#F8766D","#00BFC4"]}, "legend": null},
         "order": {"field": "t", "type": "quantitative"}
        }},
       {"data": {"name": "cens"}, "transform": [{"filter": "datum.p == 'sPD-L1 OS'"}],
        "mark": {"type": "point", "shape": "M0,-1V1M-1,0H1", "filled": false, "size": 16, "strokeWidth": 1, "opacity": 1},
        "encoding": {"x": {"field": "t", "type": "quantitative"}, "y": {"field": "y", "type": "quantitative"}, "color": {"field": "s", "type": "nominal"}}},
       {"data": {"values": [{}]}, "mark": {"type": "text", "align": "left", "baseline": "middle", "fontSize": 7.5, "color": "#333333"},
        "encoding": {"x": {"datum": 0}, "y": {"datum": 0}, "text": {"value": "p = 0.078"}}}
      ]
     }
    ]
   }
  ]
 }
]
}
